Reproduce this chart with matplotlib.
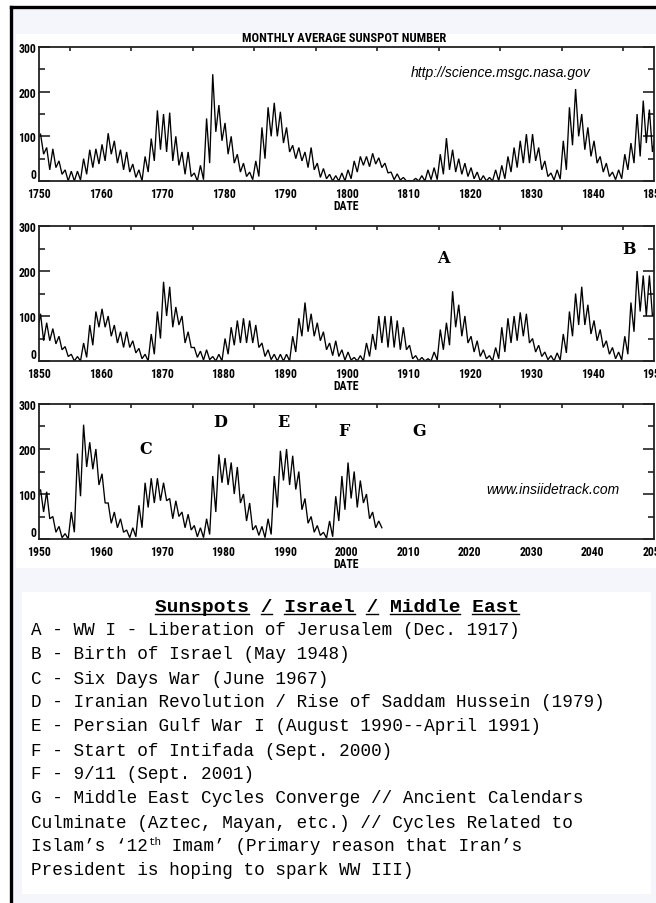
import matplotlib
matplotlib.use('Agg')
import matplotlib.pyplot as plt
from matplotlib import font_manager
from matplotlib.patches import Rectangle
from matplotlib.lines import Line2D
import numpy as np

# ---------------- data ----------------
years = list(range(1750, 2006))
monthly_high = [
    105, 75, 72, 45, 25, 22, 22, 50, 70, 72,        # 1750s
    82, 107, 90, 70, 65, 38, 25, 55, 95, 158,       # 1760s
    150, 153, 100, 65, 65, 18, 35, 140, 239, 170,   # 1770s
    130, 100, 60, 40, 20, 45, 120, 165, 175, 155,   # 1780s
    120, 80, 75, 65, 75, 40, 28, 15, 12, 18,        # 1790s
    25, 45, 55, 55, 62, 52, 40, 20, 16, 8,          # 1800s
    1, 6, 12, 25, 30, 60, 96, 70, 50, 40,           # 1810s
    30, 20, 12, 8, 25, 35, 55, 75, 90, 105,         # 1820s
    105, 75, 45, 18, 25, 90, 165, 206, 150, 120,    # 1830s
    90, 55, 40, 20, 25, 60, 85, 150, 180, 160,      # 1840s
    105, 85, 72, 55, 32, 15, 10, 40, 80, 110,       # 1850s
    116, 100, 80, 65, 65, 45, 28, 15, 60, 110,      # 1860s
    176, 165, 120, 100, 65, 30, 22, 25, 10, 15,     # 1870s
    50, 75, 90, 95, 90, 80, 40, 25, 15, 15,         # 1880s
    15, 55, 95, 130, 105, 85, 65, 40, 45, 25,       # 1890s
    20, 8, 12, 40, 60, 100, 100, 100, 90, 75,       # 1900s
    35, 12, 8, 5, 20, 70, 85, 155, 125, 100,        # 1910s
    55, 45, 25, 12, 30, 75, 95, 100, 108, 105,      # 1920s
    50, 35, 20, 12, 18, 60, 110, 150, 165, 125,     # 1930s
    90, 70, 45, 30, 20, 55, 130, 200, 190, 190,     # 1940s
    110, 105, 50, 28, 12, 60, 190, 254, 215, 200,   # 1950s
    145, 80, 60, 45, 20, 25, 75, 125, 135, 135,     # 1960s
    125, 90, 85, 60, 55, 30, 25, 45, 140, 188,      # 1970s
    180, 170, 160, 100, 80, 30, 28, 45, 140, 196,   # 1980s
    200, 185, 150, 90, 50, 30, 15, 40, 95, 140,     # 1990s
    170, 150, 130, 100, 60, 40,                     # 2000-2005
]
monthly_low = [
    60, 25, 30, 15, 0, 0, 2, 15, 30, 38,
    45, 60, 40, 25, 20, 8, 0, 20, 45, 70,
    65, 45, 35, 15, 10, 0, 3, 40, 110, 90,
    60, 40, 20, 10, 3, 10, 50, 100, 100, 85,
    65, 50, 45, 30, 25, 8, 5, 0, 0, 0,
    5, 20, 35, 32, 38, 30, 18, 3, 2, 0,
    0, 0, 0, 3, 3, 15, 25, 20, 15, 10,
    5, 0, 0, 0, 0, 5, 20, 30, 40, 40,
    45, 25, 10, 2, 4, 25, 80, 100, 70, 55,
    40, 20, 10, 3, 5, 25, 40, 55, 85, 65,
    45, 45, 38, 25, 10, 0, 0, 8, 35, 75,
    75, 55, 40, 30, 30, 18, 5, 0, 15, 50,
    100, 75, 80, 40, 30, 8, 2, 3, 0, 0,
    15, 35, 40, 40, 40, 30, 10, 3, 0, 0,
    0, 20, 55, 65, 55, 45, 25, 12, 10, 2,
    2, 0, 0, 10, 25, 40, 30, 30, 25, 25,
    5, 0, 0, 0, 2, 25, 35, 75, 55, 40,
    20, 10, 5, 0, 5, 20, 40, 45, 55, 40,
    20, 10, 3, 0, 2, 18, 55, 80, 80, 60,
    45, 30, 15, 5, 2, 15, 65, 110, 100, 100,
    60, 45, 15, 3, 0, 15, 95, 160, 155, 120,
    80, 35, 25, 15, 3, 5, 25, 70, 80, 85,
    85, 45, 50, 25, 20, 5, 3, 10, 60, 125,
    120, 100, 80, 40, 20, 8, 3, 10, 70, 130,
    120, 110, 65, 35, 15, 8, 2, 5, 40, 65,
    90, 70, 80, 45, 25, 25,
]

panel_ranges = [(1750, 1850), (1850, 1950), (1950, 2050)]
y_ticks = [0, 100, 200, 300]

event_letters = ['A', 'B', 'C', 'D', 'E', 'F', 'G']
event_x = [1915.7, 1945.9, 1967.4, 1979.4, 1989.7, 1999.6, 2011.8]
event_y = [229, 251, 202, 262, 262, 240, 240]
event_panel = [1, 1, 2, 2, 2, 2, 2]

chart_title = "MONTHLY AVERAGE SUNSPOT NUMBER"
source_text = "http://science.msgc.nasa.gov"
site_text = "www.insiidetrack.com"

legend_title = "Sunspots / Israel / Middle East"
legend_lines = [
    "A - WW I - Liberation of Jerusalem (Dec. 1917)",
    "B - Birth of Israel (May 1948)",
    "C - Six Days War (June 1967)",
    "D - Iranian Revolution / Rise of Saddam Hussein (1979)",
    "E - Persian Gulf War I (August 1990--April 1991)",
    "F - Start of Intifada (Sept. 2000)",
    "F - 9/11 (Sept. 2001)",
    "G - Middle East Cycles Converge // Ancient Calendars",
    "Culminate (Aztec, Mayan, etc.) // Cycles Related to",
    None,  # line with superscript, built below
    "President is hoping to spark WW III)",
]
sup_line_parts = ["Islam\u2019s \u201812", "th", " Imam\u2019 (Primary reason that Iran\u2019s"]

# ---------------- fonts ----------------
names = {f.name for f in font_manager.fontManager.ttflist}
narrow = 'DejaVu Sans'
for cand in ['Liberation Sans Narrow', 'DejaVu Sans Condensed', 'Roboto Condensed',
             'Open Sans Condensed', 'Liberation Sans']:
    if cand in names:
        narrow = cand
        break
mono = 'Liberation Mono' if 'Liberation Mono' in names else 'DejaVu Sans Mono'
sans = 'Liberation Sans' if 'Liberation Sans' in names else 'DejaVu Sans'

# ---------------- figure ----------------
W, H = 656, 904
fig = plt.figure(figsize=(W / 100, H / 100), dpi=100)
fig.patch.set_facecolor('white')

def fx(x):
    return x / W

def fy(y):
    return 1 - y / H

lav = '#f5f5fc'
fig.patches.append(Rectangle((fx(11), 0), 1, fy(8), transform=fig.transFigure,
                             facecolor=lav, edgecolor='none', zorder=-10))
fig.patches.append(Rectangle((fx(16), fy(569)), fx(656) - fx(16), fy(35) - fy(569),
                             transform=fig.transFigure, facecolor='white',
                             edgecolor='none', zorder=-9))
fig.patches.append(Rectangle((fx(22), fy(895)), fx(651) - fx(22), fy(593) - fy(895),
                             transform=fig.transFigure, facecolor='white',
                             edgecolor='none', zorder=-9))
fig.lines.append(Line2D([fx(11), fx(11)], [0, fy(8)], transform=fig.transFigure,
                        color='black', lw=2.4))
fig.lines.append(Line2D([fx(11), 1], [fy(8), fy(8)], transform=fig.transFigure,
                        color='black', lw=2.4))

yrs = np.array(years, dtype=float)
xs = np.column_stack([yrs + 0.25, yrs + 0.75]).ravel()
vs = np.column_stack([monthly_high, monthly_low]).ravel()

panel_px = [(48, 182), (227, 362), (405, 540)]
axes = []
for i, ((x0, x1), (top, bot)) in enumerate(zip(panel_ranges, panel_px)):
    ax = fig.add_axes([fx(39), fy(bot), fx(654) - fx(39), fy(top) - fy(bot)])
    ax.set_facecolor('white')
    ax.plot(xs, vs, color='black', lw=0.95, solid_joinstyle='miter')
    ax.set_xlim(x0, x1)
    ax.set_ylim(0, 300)
    for s in ax.spines.values():
        s.set_color('#222222')
        s.set_linewidth(1.3)
    ax.set_xticks(list(range(x0, x1 + 1, 10)))
    ax.set_xticklabels([str(v) for v in range(x0, x1 + 1, 10)],
                       fontfamily=narrow, fontweight='bold', fontsize=8.5)
    ax.tick_params(axis='x', bottom=False, top=False, pad=0.5)
    ax.set_yticks(y_ticks)
    ax.set_yticklabels([str(v) for v in y_ticks], fontfamily=narrow,
                       fontweight='bold', fontsize=8.5)
    ax.tick_params(axis='y', direction='in', length=8, width=1.2, left=True,
                   right=True, pad=2, color='#222222')
    ax.set_yticks([50, 150, 250], minor=True)
    ax.tick_params(axis='y', which='minor', direction='in', length=4, width=1.2,
                   left=True, right=True, color='#222222')
    ax.set_xticks(list(range(x0, x1 + 1, 5)), minor=True)
    ax.tick_params(axis='x', which='minor', direction='in', length=3, width=1.2,
                   top=True, bottom=False, color='#222222')
    # the "0" label sits just above the axis line, as in the original
    ax.get_yticklabels()[0].set_verticalalignment('bottom')
    mid = (x0 + x1) / 2
    ax.text(mid, -0.135, 'DATE', transform=ax.get_xaxis_transform(), ha='center',
            va='top', fontfamily=narrow, fontweight='bold', fontsize=8.5,
            clip_on=False)
    axes.append(ax)

fig.text(fx(344), fy(39), chart_title, ha='center', va='center',
         fontfamily=narrow, fontweight='bold', fontsize=9)
axes[0].text(1825.1, 244, source_text, ha='center', va='center',
             fontfamily=sans, style='italic', fontsize=10)
axes[2].text(2033.6, 111, site_text, ha='center', va='center',
             fontfamily=sans, style='italic', fontsize=10)

for lab, x, y, p in zip(event_letters, event_x, event_y, event_panel):
    axes[p].text(x, y, lab, ha='center', va='center', fontfamily='DejaVu Serif',
                 fontweight='bold', fontsize=11.5)

# ---------------- text box ----------------
fs = 12.7
title_y = 607
t = fig.text(fx(337), fy(title_y), legend_title, ha='center', va='center',
             fontfamily=mono, fontweight='bold', fontsize=14)

line_y0 = 631
step = 24
left_x = 31
for i, line in enumerate(legend_lines):
    y = line_y0 + i * step
    if line is not None:
        fig.text(fx(left_x), fy(y), line, ha='left', va='center',
                 fontfamily=mono, fontsize=fs)

fig.canvas.draw()
renderer = fig.canvas.get_renderer()

bb = t.get_window_extent(renderer)
cw = bb.width / len(legend_title)
uy = bb.y0 + 1
j = 0
while j < len(legend_title):
    if legend_title[j] != ' ':
        k = j
        while k < len(legend_title) and legend_title[k] != ' ':
            k += 1
        fig.lines.append(Line2D([(bb.x0 + j * cw) / W, (bb.x0 + k * cw) / W],
                                [uy / H, uy / H], transform=fig.transFigure,
                                color='black', lw=1.0))
        j = k
    else:
        j += 1

yi = line_y0 + legend_lines.index(None) * step
p1 = fig.text(fx(left_x), fy(yi), sup_line_parts[0], ha='left', va='center',
              fontfamily=mono, fontsize=fs)
b1 = p1.get_window_extent(renderer)
p2 = fig.text(b1.x1 / W, fy(yi - 5), sup_line_parts[1], ha='left', va='center',
              fontfamily=mono, fontsize=fs * 0.62)
b2 = p2.get_window_extent(renderer)
fig.text(b2.x1 / W, fy(yi), sup_line_parts[2], ha='left', va='center',
         fontfamily=mono, fontsize=fs)

fig.savefig('out.png', dpi=100, facecolor=fig.get_facecolor())
